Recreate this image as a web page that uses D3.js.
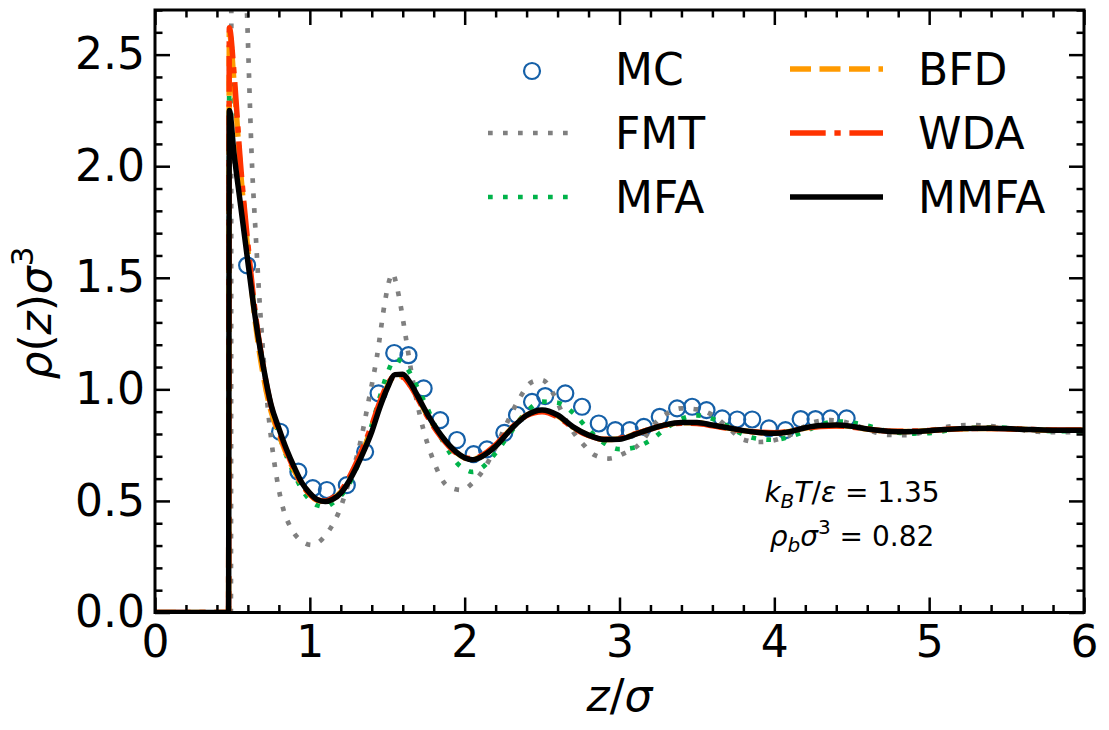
<!DOCTYPE html>
<html>
<head>
<meta charset="utf-8">
<script src="https://cdn.jsdelivr.net/npm/d3@7"></script>
<style>
  body { margin: 0; background: #fff; }
  svg text { font-family: "DejaVu Sans", sans-serif; fill: #000; }
</style>
</head>
<body>
<svg id="chart" width="1109" height="730"></svg>
<script>
// ---- data ----
const xTicks = [0, 1, 2, 3, 4, 5, 6];
const yTicks = [0, 0.5, 1.0, 1.5, 2.0, 2.5];
const xTickLabels = ["0", "1", "2", "3", "4", "5", "6"];
const yTickLabels = ["0.0", "0.5", "1.0", "1.5", "2.0", "2.5"];

// Monte Carlo points
const mcZ = [0.595, 0.808, 0.926, 1.019, 1.11, 1.239, 1.357, 1.444, 1.545, 1.637,
  1.735, 1.842, 1.95, 2.058, 2.144, 2.256, 2.338, 2.435, 2.52, 2.65,
  2.758, 2.866, 2.973, 3.066, 3.157, 3.26, 3.372, 3.469, 3.562, 3.663,
  3.76, 3.857, 3.965, 4.072, 4.17, 4.266, 4.363, 4.467];
const mcRho = [1.556, 0.81, 0.631, 0.557, 0.549, 0.571, 0.72, 0.982, 1.163, 1.153,
  1.004, 0.862, 0.773, 0.71, 0.731, 0.805, 0.885, 0.944, 0.97, 0.982,
  0.922, 0.847, 0.817, 0.817, 0.832, 0.877, 0.915, 0.922, 0.907, 0.87,
  0.865, 0.865, 0.825, 0.817, 0.867, 0.867, 0.87, 0.87];

// FMT (own grid)
const fmtZ = [0, 0.49, 0.495, 0.55, 0.595, 0.627, 0.65, 0.675, 0.7, 0.72,
  0.75, 0.787, 0.83, 0.873, 0.937, 1.013, 1.087, 1.14, 1.185, 1.25,
  1.325, 1.38, 1.433, 1.487, 1.51, 1.535, 1.562, 1.584, 1.616, 1.66,
  1.713, 1.797, 1.894, 1.983, 2.05, 2.12, 2.2, 2.273, 2.35, 2.435,
  2.5, 2.573, 2.64, 2.7, 2.77, 2.84, 2.93, 3.03, 3.135, 3.23,
  3.31, 3.4, 3.5, 3.6, 3.7, 3.8, 3.9, 4.0, 4.1, 4.25,
  4.36, 4.5, 4.6, 4.73, 4.85, 5.0, 5.1, 5.25, 5.4, 5.55,
  5.7, 5.85, 6.0];
const fmtRho = [0, 0, 4.6, 3.5, 2.67, 2.0, 1.7, 1.4, 1.15, 0.98,
  0.78, 0.6, 0.46, 0.385, 0.325, 0.303, 0.334, 0.385, 0.446, 0.58,
  0.759, 0.95, 1.145, 1.40, 1.48, 1.52, 1.46, 1.385, 1.25, 1.06,
  0.877, 0.683, 0.564, 0.549, 0.58, 0.638, 0.74, 0.849, 0.955, 1.033,
  1.042, 0.98, 0.88, 0.81, 0.75, 0.705, 0.69, 0.713, 0.759, 0.848,
  0.893, 0.915, 0.91, 0.885, 0.83, 0.775, 0.764, 0.772, 0.795, 0.852,
  0.862, 0.845, 0.82, 0.796, 0.795, 0.815, 0.83, 0.84, 0.835, 0.822,
  0.81, 0.808, 0.81];

// shared grid for MFA, BFD, WDA, MMFA
const zGrid = [0, 0.475, 0.48, 0.51, 0.55, 0.6, 0.65, 0.7, 0.75, 0.8,
  0.85, 0.9, 0.95, 1.0, 1.05, 1.1, 1.15, 1.2, 1.25, 1.3,
  1.35, 1.4, 1.45, 1.5, 1.55, 1.6, 1.65, 1.7, 1.75, 1.8,
  1.85, 1.9, 1.95, 2.0, 2.05, 2.1, 2.2, 2.3, 2.4, 2.5,
  2.6, 2.7, 2.8, 2.9, 3.0, 3.1, 3.2, 3.3, 3.4, 3.5,
  3.6, 3.7, 3.8, 3.9, 4.0, 4.1, 4.2, 4.3, 4.4, 4.5,
  4.6, 4.7, 4.8, 4.9, 5.0, 5.2, 5.4, 5.6, 5.8, 6.0];

const mfaRho = [0, 0, 2.5, 2.33, 2.02, 1.64, 1.33, 1.1, 0.93, 0.8,
  0.7, 0.62, 0.55, 0.505, 0.48, 0.474, 0.492, 0.522, 0.57, 0.645,
  0.735, 0.84, 0.96, 1.07, 1.135, 1.12, 1.07, 1.0, 0.93, 0.85,
  0.78, 0.72, 0.67, 0.643, 0.63, 0.643, 0.715, 0.81, 0.9, 0.945,
  0.94, 0.895, 0.82, 0.76, 0.732, 0.74, 0.772, 0.825, 0.868, 0.883,
  0.868, 0.835, 0.797, 0.778, 0.774, 0.788, 0.812, 0.842, 0.856, 0.851,
  0.838, 0.818, 0.806, 0.802, 0.804, 0.824, 0.83, 0.822, 0.813, 0.812];

const bfdRho = [0, 0, 2.6, 2.38, 2.0, 1.62, 1.29, 1.06, 0.9, 0.8,
  0.71, 0.635, 0.572, 0.528, 0.502, 0.497, 0.51, 0.54, 0.592, 0.66,
  0.738, 0.826, 0.928, 1.012, 1.062, 1.06, 1.02, 0.96, 0.895, 0.837,
  0.788, 0.747, 0.714, 0.693, 0.686, 0.697, 0.748, 0.824, 0.884, 0.904,
  0.881, 0.83, 0.794, 0.775, 0.778, 0.799, 0.822, 0.841, 0.85, 0.85,
  0.839, 0.827, 0.815, 0.807, 0.804, 0.811, 0.827, 0.836, 0.838, 0.833,
  0.822, 0.814, 0.811, 0.812, 0.815, 0.823, 0.825, 0.821, 0.817, 0.817];

const wdaRho = [0, 0, 2.62, 2.42, 2.03, 1.65, 1.33, 1.10, 0.925, 0.815,
  0.72, 0.64, 0.575, 0.53, 0.505, 0.5, 0.515, 0.545, 0.6, 0.67,
  0.75, 0.84, 0.94, 1.02, 1.06, 1.055, 1.015, 0.955, 0.89, 0.832,
  0.784, 0.744, 0.712, 0.694, 0.69, 0.7, 0.752, 0.826, 0.882, 0.9,
  0.877, 0.828, 0.793, 0.776, 0.78, 0.8, 0.822, 0.84, 0.848, 0.847,
  0.837, 0.825, 0.814, 0.808, 0.806, 0.812, 0.826, 0.834, 0.836, 0.831,
  0.822, 0.815, 0.812, 0.813, 0.816, 0.823, 0.825, 0.821, 0.818, 0.818];

const mmfaRho = [0, 0, 2.25, 2.06, 1.84, 1.57, 1.31, 1.10, 0.93, 0.825,
  0.73, 0.65, 0.58, 0.535, 0.505, 0.497, 0.508, 0.535, 0.585, 0.65,
  0.725, 0.81, 0.915, 1.005, 1.066, 1.068, 1.027, 0.965, 0.9, 0.842,
  0.792, 0.75, 0.716, 0.693, 0.684, 0.695, 0.745, 0.822, 0.884, 0.908,
  0.885, 0.832, 0.795, 0.775, 0.776, 0.798, 0.822, 0.842, 0.852, 0.852,
  0.84, 0.828, 0.815, 0.807, 0.803, 0.81, 0.828, 0.838, 0.84, 0.834,
  0.822, 0.814, 0.81, 0.811, 0.815, 0.824, 0.826, 0.821, 0.817, 0.817];

// ---- layout ----
const plotLeft = 155, plotRight = 1084, plotTop = 10, plotBottom = 612.5;

const svg = d3.select("#chart");

const x = d3.scaleLinear().domain([0, 6]).range([plotLeft, plotRight]);
const y = d3.scaleLinear().domain([0, 2.7]).range([plotBottom, plotTop]);

// line styles (legend order)
const lineSeries = [
  { name: "FMT",  z: fmtZ,  rho: fmtRho,  color: "#808080", width: 4.7, dash: "4.7,10.3" },
  { name: "MFA",  z: zGrid, rho: mfaRho,  color: "#00b34a", width: 4.7, dash: "4.7,10.3" },
  { name: "BFD",  z: zGrid, rho: bfdRho,  color: "#ff9a00", width: 5.5, dash: "21,8.5" },
  { name: "WDA",  z: zGrid, rho: wdaRho,  color: "#ff3300", width: 5.5, dash: "35.7,8.7,6.3,8.7" },
  { name: "MMFA", z: zGrid, rho: mmfaRho, color: "#000000", width: 5.5, dash: null }
];
const mcColor = "#1560a8";

svg.append("defs").append("clipPath").attr("id", "plot-clip")
  .append("rect")
  .attr("x", plotLeft).attr("y", plotTop)
  .attr("width", plotRight - plotLeft).attr("height", plotBottom - plotTop);

const plot = svg.append("g").attr("clip-path", "url(#plot-clip)");

// MC circles
plot.append("g")
  .selectAll("circle")
  .data(mcZ.map((z, i) => [z, mcRho[i]]))
  .join("circle")
  .attr("cx", d => x(d[0]))
  .attr("cy", d => y(d[1]))
  .attr("r", 8)
  .attr("fill", "none")
  .attr("stroke", mcColor)
  .attr("stroke-width", 2.2);

const line = d3.line()
  .x(d => x(d[0]))
  .y(d => y(d[1]))
  .curve(d3.curveMonotoneX);

lineSeries.forEach(s => {
  plot.append("path")
    .datum(s.z.map((z, i) => [z, s.rho[i]]))
    .attr("d", line)
    .attr("fill", "none")
    .attr("stroke", s.color)
    .attr("stroke-width", s.width)
    .attr("stroke-dasharray", s.dash)
    .attr("stroke-linejoin", "round");
});

// ---- axes (ticks pointing inward on all four sides) ----
const xMinor = d3.range(0, 6.001, 0.2).filter(v => Math.abs(v - Math.round(v)) > 1e-6);
const yMinor = d3.range(0, 2.701, 0.1).filter(v => Math.abs(v * 2 - Math.round(v * 2)) > 1e-6);

function styleAxis(g) {
  g.select(".domain").remove();
  g.selectAll(".tick line").attr("stroke", "#000").attr("stroke-width", 2.5);
  g.selectAll("text")
    .attr("font-size", 44)
    .attr("font-family", "DejaVu Sans")
    .attr("fill", "#000");
}

svg.append("g")
  .attr("transform", `translate(0,${plotBottom})`)
  .call(d3.axisBottom(x).tickValues(xTicks).tickSize(-15).tickPadding(13)
    .tickFormat((d, i) => xTickLabels[i]))
  .call(styleAxis);
svg.append("g")
  .attr("transform", `translate(0,${plotBottom})`)
  .call(d3.axisBottom(x).tickValues(xMinor).tickSize(-7.5).tickFormat(""))
  .call(styleAxis);
svg.append("g")
  .attr("transform", `translate(0,${plotTop})`)
  .call(d3.axisTop(x).tickValues(xTicks).tickSize(-15).tickFormat(""))
  .call(styleAxis);
svg.append("g")
  .attr("transform", `translate(0,${plotTop})`)
  .call(d3.axisTop(x).tickValues(xMinor).tickSize(-7.5).tickFormat(""))
  .call(styleAxis);

svg.append("g")
  .attr("transform", `translate(${plotLeft},0)`)
  .call(d3.axisLeft(y).tickValues(yTicks).tickSize(-15).tickPadding(10)
    .tickFormat((d, i) => yTickLabels[i]))
  .call(styleAxis);
svg.append("g")
  .attr("transform", `translate(${plotLeft},0)`)
  .call(d3.axisLeft(y).tickValues(yMinor).tickSize(-7.5).tickFormat(""))
  .call(styleAxis);
svg.append("g")
  .attr("transform", `translate(${plotRight},0)`)
  .call(d3.axisRight(y).tickValues(yTicks).tickSize(-15).tickFormat(""))
  .call(styleAxis);
svg.append("g")
  .attr("transform", `translate(${plotRight},0)`)
  .call(d3.axisRight(y).tickValues(yMinor).tickSize(-7.5).tickFormat(""))
  .call(styleAxis);

// frame
svg.append("rect")
  .attr("x", plotLeft).attr("y", plotTop)
  .attr("width", plotRight - plotLeft).attr("height", plotBottom - plotTop)
  .attr("fill", "none")
  .attr("stroke", "#000")
  .attr("stroke-width", 3);

// ---- axis labels ----
const xLabel = svg.append("text")
  .attr("x", (plotLeft + plotRight) / 2).attr("y", 711)
  .attr("text-anchor", "middle")
  .attr("font-size", 44);
xLabel.append("tspan").attr("font-style", "italic").text("z");
xLabel.append("tspan").text("/");
xLabel.append("tspan").attr("font-style", "italic").text("σ");

const yLabel = svg.append("text")
  .attr("transform", "translate(51,313) rotate(-90)")
  .attr("text-anchor", "middle")
  .attr("font-size", 44);
yLabel.append("tspan").attr("font-style", "italic").text("ρ");
yLabel.append("tspan").text("(");
yLabel.append("tspan").attr("font-style", "italic").text("z");
yLabel.append("tspan").text(")");
yLabel.append("tspan").attr("font-style", "italic").text("σ");
yLabel.append("tspan").attr("font-size", 31).attr("dy", -18).text("3");

// ---- annotation ----
const ann1 = svg.append("text")
  .attr("x", 852).attr("y", 502)
  .attr("text-anchor", "middle")
  .attr("font-size", 28);
ann1.append("tspan").attr("font-style", "italic").text("k");
ann1.append("tspan").attr("font-style", "italic").attr("font-size", 20).attr("dy", 6).text("B");
ann1.append("tspan").attr("font-style", "italic").attr("dy", -6).text("T");
ann1.append("tspan").text("/");
ann1.append("tspan").attr("font-style", "italic").text("ε");
ann1.append("tspan").text(" = 1.35");

const ann2 = svg.append("text")
  .attr("x", 852).attr("y", 546)
  .attr("text-anchor", "middle")
  .attr("font-size", 28);
ann2.append("tspan").attr("font-style", "italic").text("ρ");
ann2.append("tspan").attr("font-style", "italic").attr("font-size", 20).attr("dy", 6).text("b");
ann2.append("tspan").attr("font-style", "italic").attr("dy", -6).text("σ");
ann2.append("tspan").attr("font-size", 20).attr("dy", -12).text("3");
ann2.append("tspan").attr("dy", 12).text(" = 0.82");

// ---- legend (two columns, no frame) ----
const legendRows = [69, 133, 197];
const legendCols = [{ x0: 488, x1: 576, tx: 615 }, { x0: 790, x1: 883, tx: 918 }];
const legendItems = [
  { name: "MC", col: 0, row: 0, marker: true },
  { name: "FMT", col: 0, row: 1 },
  { name: "MFA", col: 0, row: 2 },
  { name: "BFD", col: 1, row: 0 },
  { name: "WDA", col: 1, row: 1 },
  { name: "MMFA", col: 1, row: 2 }
];

const legend = svg.append("g");
legendItems.forEach(item => {
  const c = legendCols[item.col];
  const ry = legendRows[item.row];
  if (item.marker) {
    legend.append("circle")
      .attr("cx", (c.x0 + c.x1) / 2).attr("cy", ry + 2)
      .attr("r", 8)
      .attr("fill", "none")
      .attr("stroke", mcColor)
      .attr("stroke-width", 2.2);
  } else {
    const s = lineSeries.find(d => d.name === item.name);
    legend.append("line")
      .attr("x1", c.x0).attr("x2", c.x1)
      .attr("y1", ry).attr("y2", ry)
      .attr("stroke", s.color)
      .attr("stroke-width", s.width)
      .attr("stroke-dasharray", s.dash);
  }
  legend.append("text")
    .attr("x", c.tx).attr("y", ry + 16)
    .attr("font-size", 44)
    .text(item.name);
});
</script>
</body>
</html>
